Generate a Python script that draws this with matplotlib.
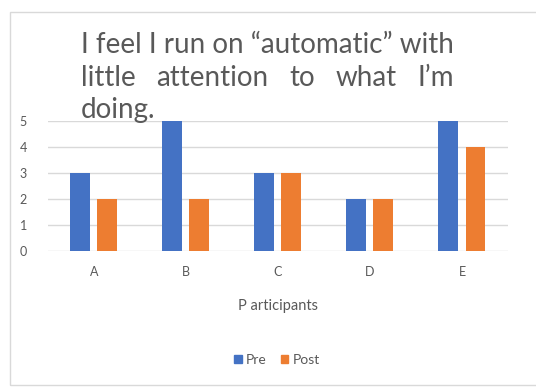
import matplotlib
matplotlib.use("Agg")
import matplotlib.pyplot as plt
import numpy as np
from matplotlib.patches import Rectangle

categories = ["A", "B", "C", "D", "E"]
pre = [3, 5, 3, 2, 5]
post = [2, 2, 3, 2, 4]
yticks = [0, 1, 2, 3, 4, 5]
title_lines = ["I feel I run on \u201cautomatic\u201d with",
               "little attention to what I\u2019m",
               "doing."]
series_names = ["Pre", "Post"]
xlabel = "P articipants"

BLUE = "#4472C4"
ORANGE = "#ED7D31"
GRID = "#D9D9D9"
TEXT = "#595959"

W, H = 536, 387
plt.rcParams['font.family'] = ['Lato', 'DejaVu Sans']
fig = plt.figure(figsize=(W / 100, H / 100), dpi=100)
fig.patch.set_facecolor("white")

def fx(px):
    return px / W

def fy(py):
    return 1 - py / H

# chart frame (right side runs off the canvas)
fig.patches.append(Rectangle((fx(10), fy(385)), 1.2, (385 - 12) / H,
                             transform=fig.transFigure, fill=False,
                             edgecolor=GRID, linewidth=1.0))

ax = fig.add_axes([fx(47.7), fy(250.7), 460.3 / W, 130 / H])
x = np.arange(len(categories))
bw = 0.217
off = 0.147
ax.bar(x - off, pre, bw, color=BLUE, zorder=3)
ax.bar(x + off, post, bw, color=ORANGE, zorder=3)
ax.set_xlim(-0.5, len(categories) - 0.5)
ax.set_ylim(0, 5)
ax.set_yticks(yticks)
ax.set_xticks(x)
ax.set_xticklabels(categories)
ax.yaxis.grid(True, color=GRID, linewidth=1.0, zorder=0)
ax.set_axisbelow(True)
for s in ax.spines.values():
    s.set_visible(False)
ax.tick_params(axis='both', length=0, labelcolor=TEXT, labelsize=9)
ax.tick_params(axis='y', pad=15)
ax.tick_params(axis='x', pad=11)
ax.set_xlabel(xlabel, color=TEXT, fontsize=10.5, labelpad=15)

# legend
handles = [Rectangle((0, 0), 1, 1, color=BLUE), Rectangle((0, 0), 1, 1, color=ORANGE)]
fig.legend(handles, series_names, loc='center', bbox_to_anchor=(fx(277), fy(360)),
           ncol=2, frameon=False, fontsize=10, labelcolor=TEXT,
           handlelength=0.55, handleheight=0.55, handletextpad=0.3,
           columnspacing=1.0)

# justified title block
title_fs = 20
x_left = fx(81)
baselines = [53, 86, 118]
t1 = fig.text(x_left, fy(baselines[0]), title_lines[0], fontsize=title_fs,
              color=TEXT, ha='left', va='baseline')
fig.canvas.draw()
renderer = fig.canvas.get_renderer()
line_w = t1.get_window_extent(renderer).width

words = title_lines[1].split(" ")
texts = [fig.text(0, fy(baselines[1]), w, fontsize=title_fs, color=TEXT,
                  ha='left', va='baseline') for w in words]
widths = [t.get_window_extent(renderer).width for t in texts]
gap = (line_w - sum(widths)) / (len(words) - 1)
pos = 81.0
for t, w in zip(texts, widths):
    t.set_x(fx(pos))
    pos += w + gap

fig.text(x_left, fy(baselines[2]), title_lines[2], fontsize=title_fs,
         color=TEXT, ha='left', va='baseline')

fig.savefig("out.png", dpi=100)
